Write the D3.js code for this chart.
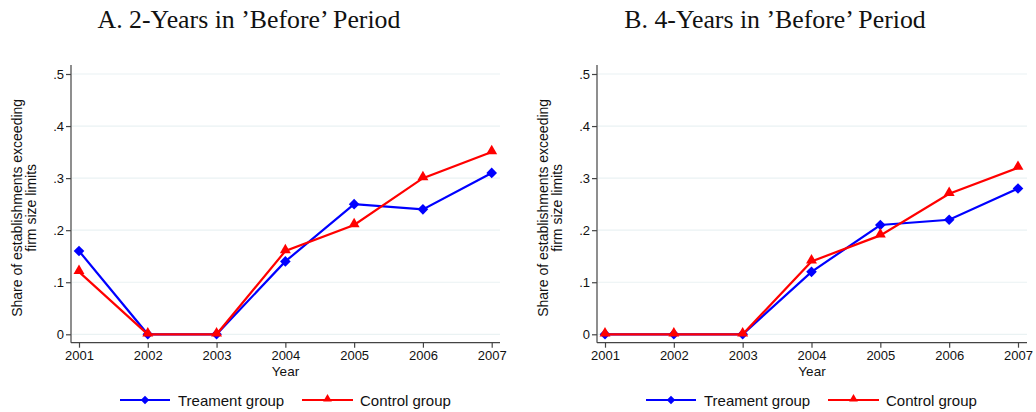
<!DOCTYPE html>
<html>
<head>
<meta charset="utf-8">
<script src="https://cdn.jsdelivr.net/npm/d3@7"></script>
<style>
  body { margin: 0; background: #fff; }
  svg { display: block; }
</style>
</head>
<body>
<svg id="chart" width="1036" height="412"></svg>
<script>
// Years on the x axis
const years = [2001, 2002, 2003, 2004, 2005, 2006, 2007];
const yTicks = [0, 0.1, 0.2, 0.3, 0.4, 0.5];
const yTickLabels = ["0", ".1", ".2", ".3", ".4", ".5"];

// Panel A: 2 years in the 'before' period
const treatmentA = [0.16, 0, 0, 0.14, 0.25, 0.24, 0.31];
const controlA   = [0.12, 0, 0, 0.16, 0.21, 0.30, 0.35];

// Panel B: 4 years in the 'before' period
const treatmentB = [0, 0, 0, 0.12, 0.21, 0.22, 0.28];
const controlB   = [0, 0, 0, 0.14, 0.19, 0.27, 0.32];

const panelTitles = ["A. 2-Years in \u2019Before\u2019 Period", "B. 4-Years in \u2019Before\u2019 Period"];
const seriesNames = ["Treament group", "Control group"];
const yTitleLines = ["Share of establishments exceeding", "firm size limits"];
const xTitle = "Year";

const svg = d3.select("#chart");
const sans = "'Liberation Sans', Arial, sans-serif";
const serif = "'Liberation Serif', 'Times New Roman', serif";
const BLUE = "#0000ff", RED = "#ff0000";

const panels = [
  { left: 0,   axisX: 71,  x0: 79,  x1: 491.7, right: 500, title: panelTitles[0], treat: treatmentA, ctrl: controlA },
  { left: 526, axisX: 597, x0: 605, x1: 1018,  right: 1027, title: panelTitles[1], treat: treatmentB, ctrl: controlB }
];

const yTop = 65, yBottom = 342.7;

panels.forEach(p => {
  const g = svg.append("g");
  const x = d3.scaleLinear().domain([years[0], years[years.length - 1]]).range([p.x0, p.x1]);
  const y = d3.scaleLinear().domain([0, 0.5]).range([334.3, 74]);

  // gridlines
  g.selectAll("line.grid").data(yTicks).join("line")
    .attr("x1", p.axisX + 1).attr("x2", p.right)
    .attr("y1", d => y(d)).attr("y2", d => y(d))
    .attr("stroke", "#eaf2f3").attr("stroke-width", 1.2);

  // y axis
  const yAxis = d3.axisLeft(y).tickValues(yTicks)
    .tickFormat((d, i) => yTickLabels[i]).tickSize(5).tickSizeOuter(0);
  const gy = g.append("g").attr("transform", `translate(${p.axisX},0)`).call(yAxis);
  gy.select(".domain").attr("d", `M0,${yTop}V${yBottom}`);
  gy.selectAll("path, line").attr("stroke", "#444").attr("stroke-width", 1.2);
  gy.selectAll("text").attr("font-family", sans).attr("font-size", 13).attr("fill", "#111").attr("x", -7);

  // x axis
  const xAxis = d3.axisBottom(x).tickValues(years).tickFormat(d3.format("d")).tickSize(5).tickSizeOuter(0);
  const gx = g.append("g").attr("transform", `translate(0,${yBottom})`).call(xAxis);
  gx.select(".domain").attr("d", `M${p.axisX},0H${p.right}`);
  gx.selectAll("path, line").attr("stroke", "#444").attr("stroke-width", 1.2);
  gx.selectAll("text").attr("font-family", sans).attr("font-size", 13).attr("fill", "#111").attr("y", 8);

  // axis titles
  g.append("text").attr("x", (p.axisX + p.right) / 2).attr("y", 376)
    .attr("text-anchor", "middle").attr("font-family", sans).attr("font-size", 13.5).attr("fill", "#111")
    .text(xTitle);
  const yt = g.append("text")
    .attr("transform", `translate(${p.left + 22},${(yTop + yBottom) / 2 + 4}) rotate(-90)`)
    .attr("text-anchor", "middle").attr("font-family", sans).attr("font-size", 14).attr("fill", "#111");
  yTitleLines.forEach((t, i) => yt.append("tspan").attr("x", 0).attr("dy", i === 0 ? 0 : 14).text(t));

  // panel title
  g.append("text").attr("x", p.left + 249).attr("y", 28)
    .attr("text-anchor", "middle").attr("font-family", serif).attr("font-size", 25.8).attr("fill", "#111")
    .text(p.title);

  const line = d3.line().x((d, i) => x(years[i])).y(d => y(d));
  const diamond = d3.symbol().type(d3.symbolDiamond2).size(72);
  const triangle = d3.symbol().type(d3.symbolTriangle).size(52);

  g.append("path").datum(p.treat).attr("d", line).attr("fill", "none").attr("stroke", BLUE).attr("stroke-width", 2.2);
  g.selectAll("path.tm").data(p.treat).join("path").attr("class", "tm")
    .attr("d", diamond).attr("fill", BLUE)
    .attr("transform", (d, i) => `translate(${x(years[i])},${y(d)})`);

  g.append("path").datum(p.ctrl).attr("d", line).attr("fill", "none").attr("stroke", RED).attr("stroke-width", 2.2);
  g.selectAll("path.cm").data(p.ctrl).join("path").attr("class", "cm")
    .attr("d", triangle).attr("fill", RED)
    .attr("transform", (d, i) => `translate(${x(years[i])},${y(d) - 1})`);

  // legend
  const lg = g.append("g").attr("transform", `translate(${p.left},400)`);
  const items = [
    { name: seriesNames[0], color: BLUE, sym: diamond, x1: 120, x2: 170, tx: 178 },
    { name: seriesNames[1], color: RED, sym: triangle, x1: 302, x2: 353, tx: 360 }
  ];
  items.forEach(it => {
    lg.append("line").attr("x1", it.x1).attr("x2", it.x2).attr("y1", 0).attr("y2", 0)
      .attr("stroke", it.color).attr("stroke-width", 2.2);
    lg.append("path").attr("d", it.sym).attr("fill", it.color)
      .attr("transform", `translate(${(it.x1 + it.x2) / 2},${it.sym === triangle ? -1 : 0}) scale(0.8)`);
    lg.append("text").attr("x", it.tx).attr("y", 5.5).attr("font-family", sans).attr("font-size", 15)
      .attr("fill", "#111").text(it.name);
  });
});
</script>
</body>
</html>
